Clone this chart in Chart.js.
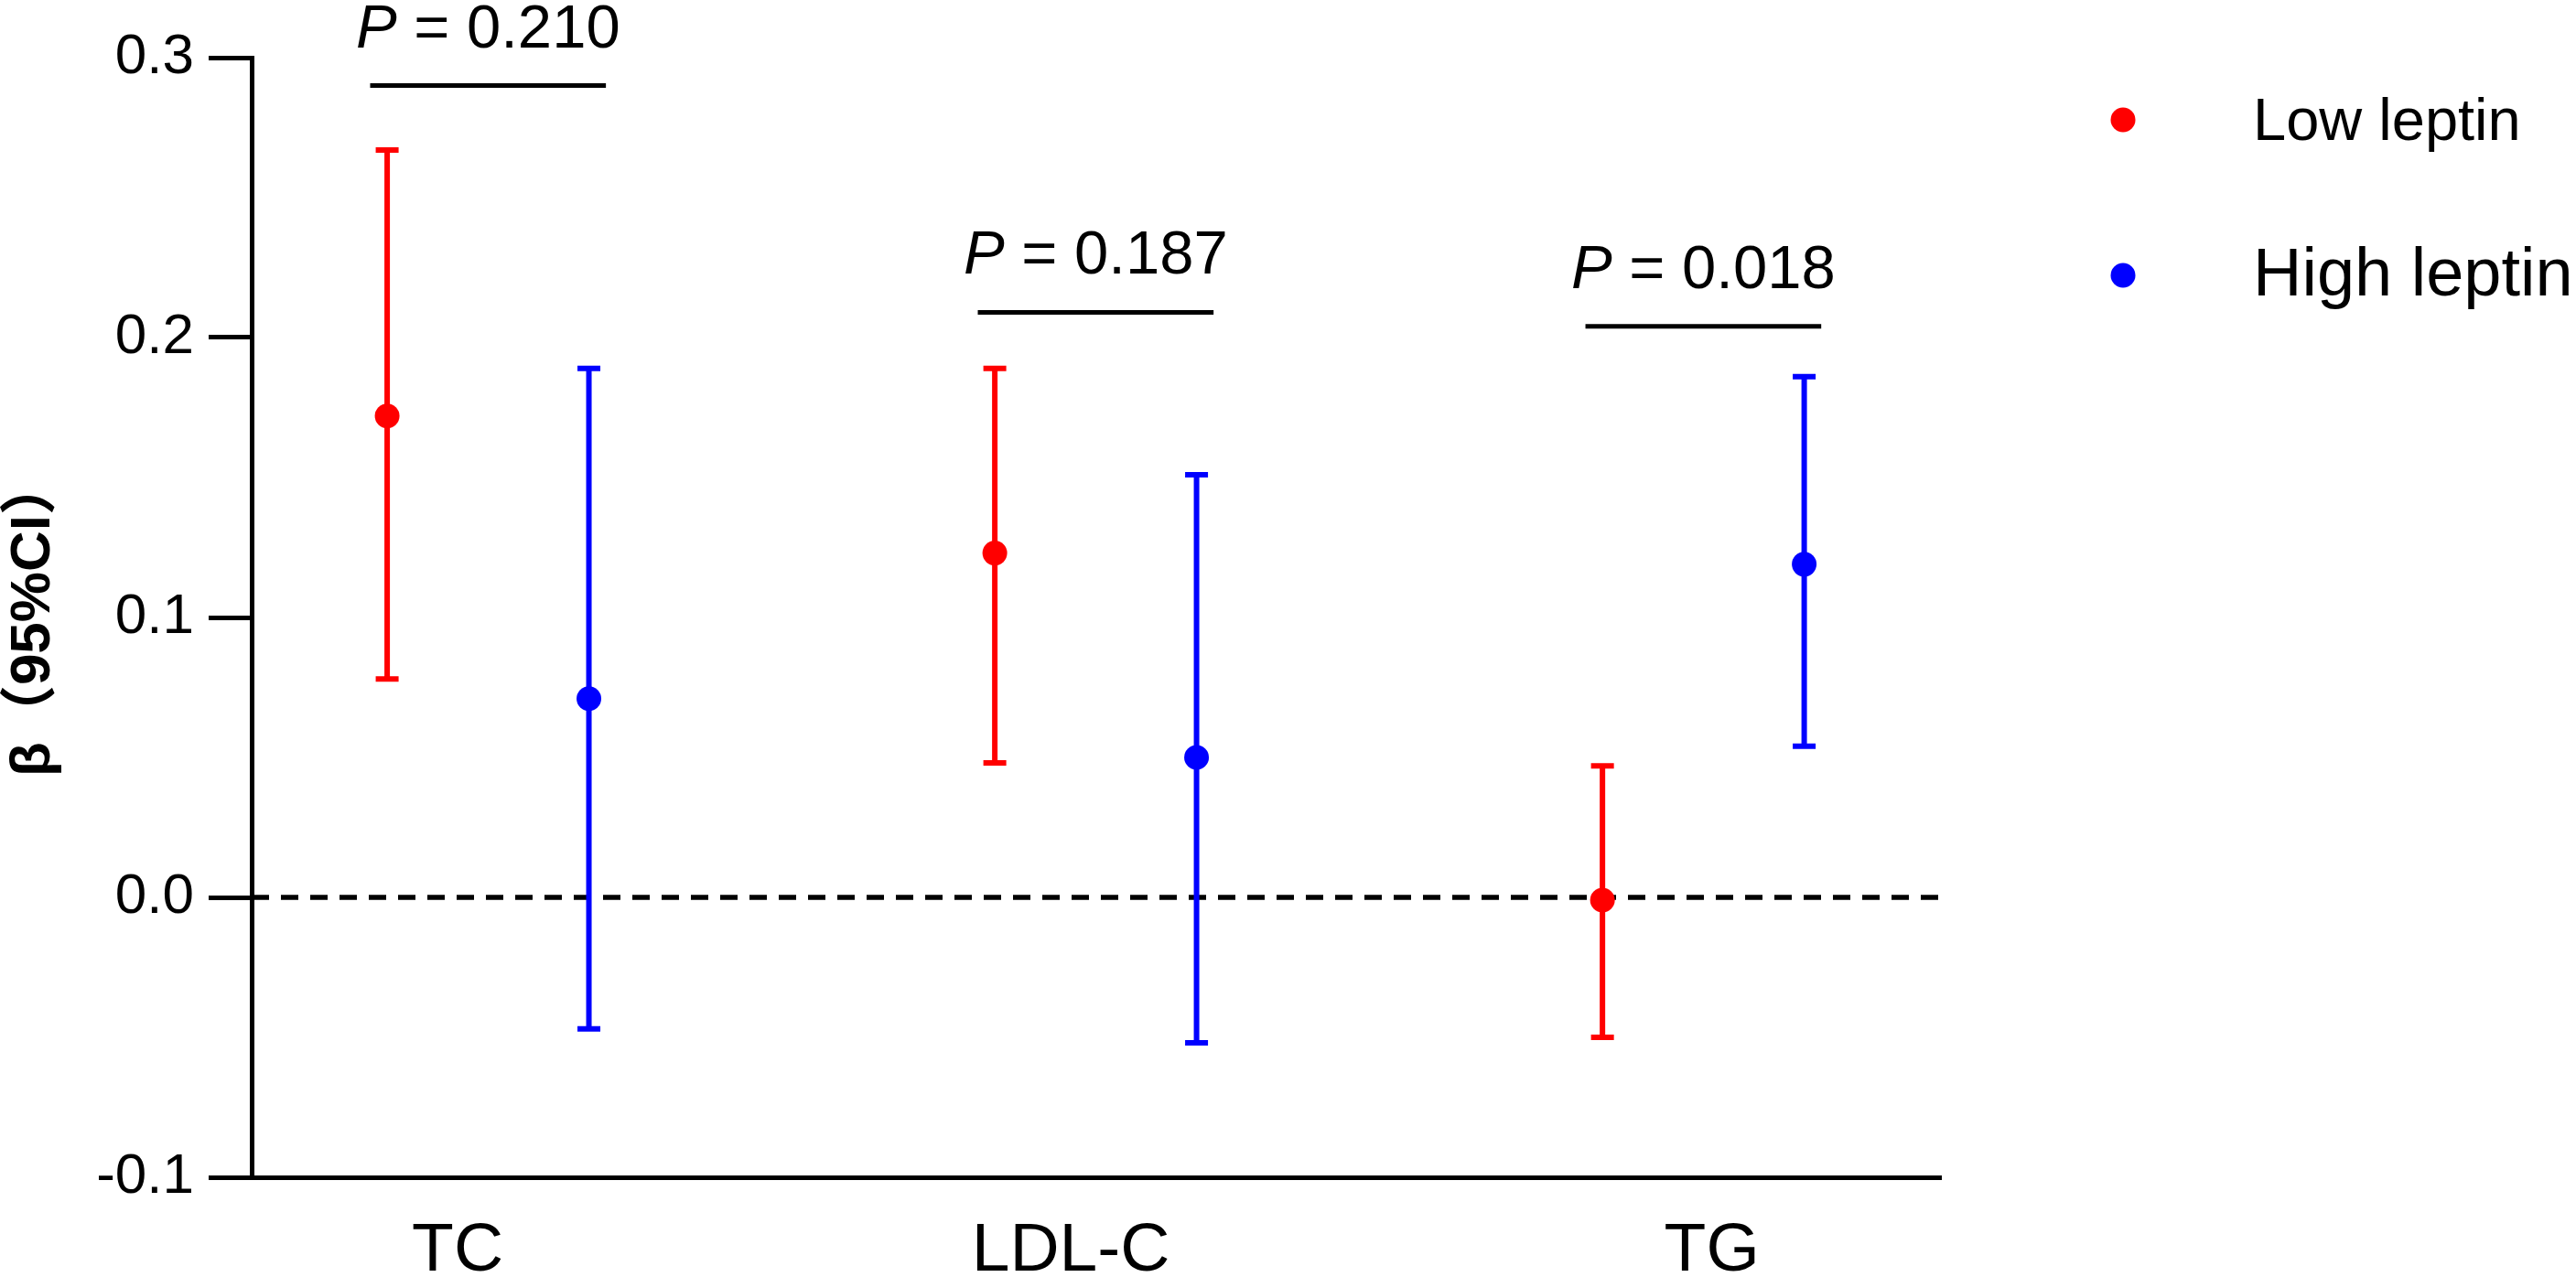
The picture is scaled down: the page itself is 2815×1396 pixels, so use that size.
<!DOCTYPE html>
<html>
<head>
<meta charset="utf-8">
<script src="https://cdn.jsdelivr.net/npm/chart.js@4.4.1/dist/chart.umd.min.js"></script>
<style>
  html, body { margin: 0; padding: 0; background: #ffffff; }
  #wrap { position: relative; width: 2815px; height: 1396px; }
</style>
</head>
<body>
<div id="wrap"><canvas id="c"></canvas></div>
<script>
// ---- data ----
const categories = ['TC', 'LDL-C', 'TG'];
const seriesNames = ['Low leptin', 'High leptin'];
const lowBeta  = [0.172, 0.123, -0.001];
const lowLower = [0.078, 0.048, -0.050];
const lowUpper = [0.267, 0.189,  0.047];
const highBeta  = [0.071,  0.050, 0.119];
const highLower = [-0.047, -0.052, 0.054];
const highUpper = [0.189,  0.151, 0.186];
const pValues  = ['0.210', '0.187', '0.018'];
const bracketY = [0.290, 0.209, 0.204];
const yTicks = [-0.1, 0.0, 0.1, 0.2, 0.3];

// styling constants
const RED = '#FF0000';
const BLUE = '#0000FF';
const OFFSET = 0.166;
const LABEL_SHIFT = [-0.05, -0.041, 0.014];
const FONT = '"Liberation Sans", Arial, "Noto Sans CJK SC", sans-serif';

function makePoints(vals, sign) {
  return vals.map((v, i) => ({ x: i + 1 + sign * OFFSET, y: v }));
}

const errorBarPlugin = {
  id: 'errorBars',
  beforeDatasetsDraw(chart) {
    const ctx = chart.ctx;
    const ys = chart.scales.y;
    const area = chart.chartArea;
    // zero reference line
    ctx.save();
    ctx.strokeStyle = '#000000';
    ctx.lineWidth = 5.5;
    ctx.setLineDash([19, 13]);
    const y0 = ys.getPixelForValue(0);
    ctx.beginPath();
    ctx.moveTo(area.left, y0);
    ctx.lineTo(area.right, y0);
    ctx.stroke();
    ctx.restore();
    // error bars
    chart.data.datasets.forEach((ds, di) => {
      const meta = chart.getDatasetMeta(di);
      ctx.save();
      ctx.strokeStyle = ds.backgroundColor;
      ctx.lineWidth = 6;
      meta.data.forEach((pt, j) => {
        const x = pt.x;
        const yl = ys.getPixelForValue(ds.lower[j]);
        const yh = ys.getPixelForValue(ds.upper[j]);
        ctx.beginPath();
        ctx.moveTo(x, yl);
        ctx.lineTo(x, yh);
        ctx.moveTo(x - 12.5, yh);
        ctx.lineTo(x + 12.5, yh);
        ctx.moveTo(x - 12.5, yl);
        ctx.lineTo(x + 12.5, yl);
        ctx.stroke();
      });
      ctx.restore();
    });
  },
  afterDraw(chart) {
    const ctx = chart.ctx;
    const xs = chart.scales.x;
    const ys = chart.scales.y;
    // P-value brackets
    ctx.save();
    ctx.strokeStyle = '#000000';
    ctx.fillStyle = '#000000';
    ctx.lineWidth = 5;
    pValues.forEach((p, j) => {
      const c = j + 1;
      const x1 = xs.getPixelForValue(c - 0.194);
      const x2 = xs.getPixelForValue(c + 0.194);
      const yb = ys.getPixelForValue(bracketY[j]);
      ctx.beginPath();
      ctx.moveTo(x1, yb);
      ctx.lineTo(x2, yb);
      ctx.stroke();
      const fi = 'italic 67px ' + FONT;
      const fn = '67px ' + FONT;
      const t2 = ' = ' + p;
      ctx.font = fi; const w1 = ctx.measureText('P').width;
      ctx.font = fn; const w2 = ctx.measureText(t2).width;
      const xc = xs.getPixelForValue(c);
      const start = xc - (w1 + w2) / 2;
      ctx.textAlign = 'left';
      ctx.textBaseline = 'alphabetic';
      ctx.font = fi; ctx.fillText('P', start, yb - 42);
      ctx.font = fn; ctx.fillText(t2, start + w1, yb - 42);
    });
    // legend
    const legendItems = [
      { label: seriesNames[0], color: RED, cy: 131, base: 153, size: 65 },
      { label: seriesNames[1], color: BLUE, cy: 301, base: 323, size: 74 }
    ];
    legendItems.forEach(it => {
      ctx.beginPath();
      ctx.fillStyle = it.color;
      ctx.arc(2320, it.cy, 13.5, 0, Math.PI * 2);
      ctx.fill();
      ctx.fillStyle = '#000000';
      ctx.font = it.size + 'px ' + FONT;
      ctx.textAlign = 'left';
      ctx.textBaseline = 'alphabetic';
      ctx.fillText(it.label, 2462, it.base);
    });
    ctx.restore();
  }
};

new Chart(document.getElementById('c'), {
  type: 'scatter',
  data: {
    datasets: [
      {
        label: seriesNames[0],
        data: makePoints(lowBeta, -1),
        lower: lowLower,
        upper: lowUpper,
        backgroundColor: RED,
        borderColor: RED,
        borderWidth: 0,
        pointRadius: 13.5,
        pointHoverRadius: 13.5
      },
      {
        label: seriesNames[1],
        data: makePoints(highBeta, 1),
        lower: highLower,
        upper: highUpper,
        backgroundColor: BLUE,
        borderColor: BLUE,
        borderWidth: 0,
        pointRadius: 13.5,
        pointHoverRadius: 13.5
      }
    ]
  },
  options: {
    responsive: true,
    maintainAspectRatio: false,
    animation: false,
    devicePixelRatio: 1,
    layout: { padding: { top: 63, right: 694, left: 0, bottom: 0 } },
    plugins: {
      legend: { display: false },
      tooltip: { enabled: false }
    },
    scales: {
      x: {
        type: 'linear',
        min: 0.611,
        max: 3.391,
        afterBuildTicks(scale) {
          scale.ticks = categories.map((c, i) => ({ value: i + 1 + LABEL_SHIFT[i], label: c }));
        },
        afterFit(scale) { scale.height = 109; },
        grid: { display: false, drawTicks: false, tickLength: 0 },
        border: { display: true, color: '#000000', width: 5 },
        ticks: {
          padding: 36,
          color: '#000000',
          font: { family: FONT, size: 75 },
          callback(v, idx) { return categories[idx] || ''; },
          maxRotation: 0
        }
      },
      y: {
        min: -0.1,
        max: 0.3,
        afterBuildTicks(scale) { scale.ticks = yTicks.map(v => ({ value: v })); },
        afterFit(scale) { scale.width = 275; },
        grid: {
          display: true,
          drawOnChartArea: false,
          drawTicks: true,
          tickLength: 47,
          tickWidth: 5,
          color: '#000000'
        },
        border: { display: true, color: '#000000', width: 5 },
        ticks: {
          padding: 16,
          color: '#000000',
          font: { family: FONT, size: 62 },
          callback(v) { return Number(v).toFixed(1); }
        },
        title: {
          display: true,
          text: 'β（95%CI）',
          color: '#000000',
          padding: 0,
          font: { family: FONT, size: 62, weight: 'bold' }
        }
      }
    }
  },
  plugins: [errorBarPlugin]
});
</script>
</body>
</html>
